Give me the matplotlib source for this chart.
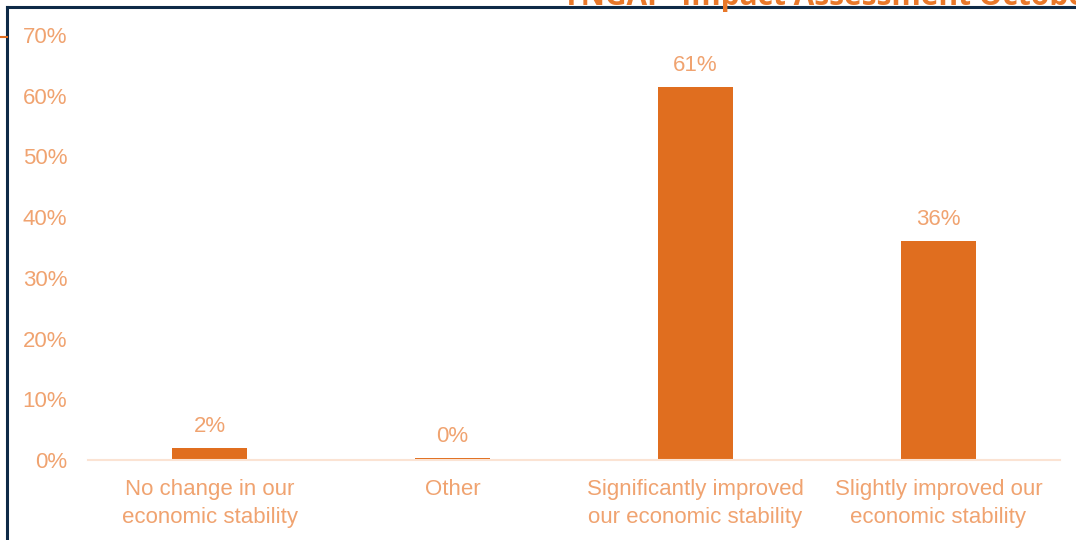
import matplotlib.pyplot as plt
from matplotlib.lines import Line2D

# survey answers and share of respondents (%)
categories = ["No change in our\neconomic stability", "Other",
              "Significantly improved\nour economic stability",
              "Slightly improved our\neconomic stability"]
values = [2.0, 0.3, 61.4, 36.1]
value_labels = ["2%", "0%", "61%", "36%"]
yticks = [0, 10, 20, 30, 40, 50, 60, 70]
title = "YNGAP  Impact Assessment October 2023"

bar_color = "#E06E1F"
text_color = "#F0A370"
frame_color = "#0E2A47"

plt.rcParams['font.family'] = ['Liberation Sans', 'DejaVu Sans']

fig = plt.figure(figsize=(10.76, 5.4), dpi=100)
W, H = 1076, 540

# axes placed to match the screenshot: x from 88 to 1060 px, y 0 at 460, 70 at 35
ax = fig.add_axes([88 / W, 1 - 460 / H, (1060 - 88) / W, (460 - 35) / H])
x = range(len(categories))
ax.bar(x, values, width=0.31, color=bar_color)
for i, (v, lab) in enumerate(zip(values, value_labels)):
    ax.annotate(lab, (i, v), xytext=(0, 8), textcoords="offset points",
                ha="center", va="bottom", fontsize=16, color=text_color)

ax.set_xlim(-0.5, len(categories) - 0.5)
ax.set_ylim(0, 70)
ax.set_yticks(yticks)
ax.set_yticklabels([f"{t}%" for t in yticks])
ax.set_xticks(list(x))
ax.set_xticklabels(categories, linespacing=1.4)
ax.tick_params(axis="both", length=0, labelsize=16, labelcolor=text_color)
ax.tick_params(axis="y", pad=15)
ax.tick_params(axis="x", pad=14)
for s in ["top", "right", "left"]:
    ax.spines[s].set_visible(False)
ax.spines["bottom"].set_color("#FBE3D3")
ax.spines["bottom"].set_linewidth(1.5)

# slide frame and cut-off title from the screenshot
fig.add_artist(Line2D([7 / W, 7 / W], [0, 1 - 7 / H], color=frame_color, lw=2.2))
fig.add_artist(Line2D([7 / W, 1], [1 - 7 / H, 1 - 7 / H], color=frame_color, lw=2.2))
fig.add_artist(Line2D([0, 7 / W], [1 - 37 / H, 1 - 37 / H], color=bar_color, lw=1.5))
fig.text(562 / W, 1 - 5 / H, title, fontsize=21.5, fontweight="bold",
         color="#E8782A", family=["Open Sans", "DejaVu Sans"],
         va="baseline", ha="left")

fig.savefig("out.png", dpi=100)
